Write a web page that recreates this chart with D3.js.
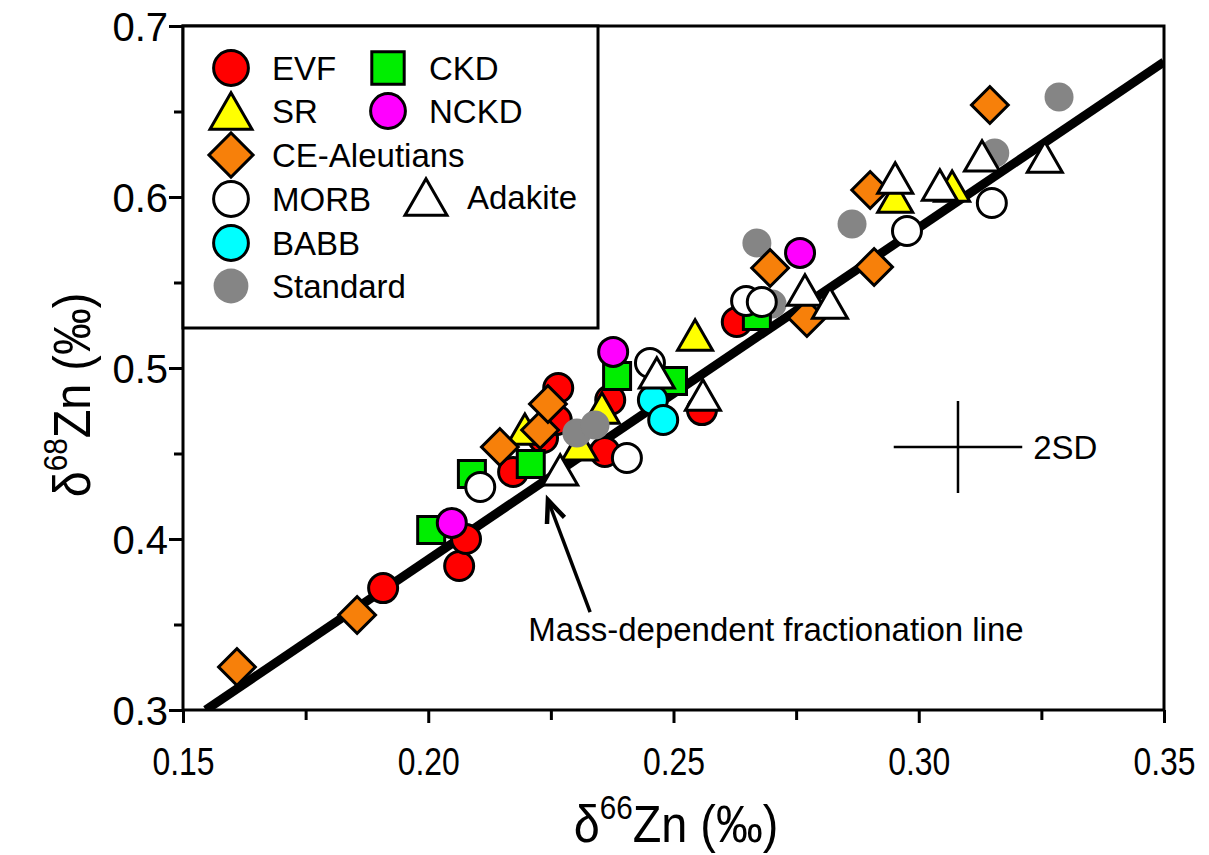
<!DOCTYPE html>
<html>
<head>
<meta charset="utf-8">
<script src="https://cdn.jsdelivr.net/npm/d3@7"></script>
<style>
  body { margin: 0; background: #fff; }
  text { font-family: "Liberation Sans", Arial, sans-serif; fill: #000; }
</style>
</head>
<body>
<svg id="chart" width="1209" height="855"></svg>
<script>
var WIDTH = 1209;
var HEIGHT = 855;

// sample groups: [d66Zn, d68Zn]
var EVF = [[0.1908,0.3713],[0.2063,0.3842],[0.2077,0.4000],[0.2173,0.4392],[0.2234,0.4591],
    [0.2262,0.4696],[0.2265,0.4883],[0.2371,0.4813],[0.2360,0.4509],[0.2558,0.4754],[0.2629,0.5269]];
var SR = [[0.2197,0.4643],[0.2309,0.4550],[0.2354,0.4766],[0.2544,0.5193],[0.2952,0.6000],[0.3068,0.6064]];
var STANDARD = [[0.2303,0.4620],[0.2340,0.4667],[0.2670,0.5731],[0.2701,0.5374],[0.2864,0.5842],
    [0.3155,0.6257],[0.3286,0.6585]];
var CKD = [[0.2006,0.4053],[0.2089,0.4380],[0.2209,0.4439],[0.2385,0.4953],[0.2499,0.4924],[0.2670,0.5304]];
var NCKD = [[0.2048,0.4094],[0.2377,0.5094],[0.2758,0.5673]];
var CE_ALEUTIANS = [[0.1610,0.3251],[0.1855,0.3556],[0.2146,0.4538],[0.2228,0.4637],[0.2244,0.4789],
    [0.2697,0.5585],[0.2772,0.5292],[0.2909,0.5591],[0.2901,0.6041],[0.3145,0.6538]];
var BABB = [[0.2458,0.4813],[0.2479,0.4696]];
var MORB = [[0.2106,0.4304],[0.2405,0.4474],[0.2452,0.5029],[0.2648,0.5392],[0.2680,0.5386],
    [0.2976,0.5801],[0.3149,0.5965]];
var ADAKITE = [[0.2269,0.4404],[0.2466,0.4971],[0.2560,0.4842],[0.2768,0.5456],[0.2819,0.5380],
    [0.2952,0.6111],[0.3043,0.6070],[0.3129,0.6240],[0.3257,0.6234]];

var X_TICKS = [0.15, 0.20, 0.25, 0.30, 0.35];
var X_MINOR = [0.175, 0.225, 0.275, 0.325];
var Y_TICKS = [0.3, 0.4, 0.5, 0.6, 0.7];
var Y_MINOR = [0.35, 0.45, 0.55, 0.65];
var LINE_SLOPE = 1.94;          // mass-dependent fractionation line, d68 = 1.94 * d66
var SD_CENTER = [0.3080, 0.4538];
var SD_ERR = [0.0131, 0.0269];
var ARROW_FROM = [0.2330, 0.3573];
var ARROW_TO = [0.2244, 0.4228];
var NOTE_POS = [0.2709, 0.3404];

var series = [
    {name: "EVF", data: EVF, shape: "circle", fill: "#ff0000"},
    {name: "SR", data: SR, shape: "triangle", fill: "#ffff00"},
    {name: "Standard", data: STANDARD, shape: "circle", fill: "#858585", noStroke: true},
    {name: "CKD", data: CKD, shape: "square", fill: "#00ee00"},
    {name: "NCKD", data: NCKD, shape: "circle", fill: "#ff00ff"},
    {name: "CE-Aleutians", data: CE_ALEUTIANS, shape: "diamond", fill: "#f7800a"},
    {name: "BABB", data: BABB, shape: "circle", fill: "#00ffff"},
    {name: "MORB", data: MORB, shape: "circle", fill: "#ffffff"},
    {name: "Adakite", data: ADAKITE, shape: "triangle", fill: "#ffffff"}
];

var plotLeft = 183, plotRight = 1164, plotTop = 26, plotBottom = 710;
var x = d3.scaleLinear().domain([0.15, 0.35]).range([plotLeft, plotRight]);
var y = d3.scaleLinear().domain([0.3, 0.7]).range([plotBottom, plotTop]);

var svg = d3.select("#chart");

/**
 * Path for a marker shape, k scales it (legend symbols are a bit bigger)
 */
function marker(shape, k) {
    k = k || 1;
    if (shape === "circle") return d3.symbol(d3.symbolCircle, Math.PI * 14.5 * 14.5 * k * k)();
    if (shape === "square") return d3.symbol(d3.symbolSquare, 27 * 27 * k * k)();
    if (shape === "diamond") return d3.symbol(d3.symbolSquare, 26 * 26 * k * k)();
    // equilateral triangle, side ~35
    var s = 35 * k;
    var h = s * Math.sqrt(3) / 2;
    return "M0," + (-h / 2) + "L" + (s / 2) + "," + (h / 2) + "L" + (-s / 2) + "," + (h / 2) + "Z";
}

// fractionation line, clipped to the plot area
svg.append("clipPath").attr("id", "clip")
    .append("rect").attr("x", plotLeft).attr("y", plotTop)
    .attr("width", plotRight - plotLeft).attr("height", plotBottom - plotTop);
var x0 = 0.3 / LINE_SLOPE;
svg.append("line")
    .attr("clip-path", "url(#clip)")
    .attr("x1", x(x0)).attr("y1", y(0.3))
    .attr("x2", x(0.35)).attr("y2", y(LINE_SLOPE * 0.35))
    .attr("stroke", "#000").attr("stroke-width", 9);

// axes
var xAxis = d3.axisBottom(x).tickValues(X_TICKS).tickSize(13).tickFormat(d3.format(".2f"));
var yAxis = d3.axisLeft(y).tickValues(Y_TICKS).tickSize(14).tickFormat(d3.format(".1f"));
var xMinor = d3.axisBottom(x).tickValues(X_MINOR).tickSize(10).tickFormat("");
var yMinor = d3.axisLeft(y).tickValues(Y_MINOR).tickSize(9).tickFormat("");

function styleAxis(g) {
    g.select(".domain").remove();
    g.selectAll("line").attr("stroke", "#000").attr("stroke-width", 3);
    g.attr("font-family", null).attr("font-size", null);
}
svg.append("g").attr("transform", "translate(0," + plotBottom + ")").call(xMinor).call(styleAxis);
svg.append("g").attr("transform", "translate(" + plotLeft + ",0)").call(yMinor).call(styleAxis);
var gx = svg.append("g").attr("transform", "translate(0," + plotBottom + ")").call(xAxis).call(styleAxis);
gx.selectAll("text")
    .attr("y", 0).attr("dy", null)
    .attr("font-size", 38)
    .attr("transform", "translate(0,65) scale(0.84,1)");
var gy = svg.append("g").attr("transform", "translate(" + plotLeft + ",0)").call(yAxis).call(styleAxis);
gy.selectAll("text")
    .attr("x", -15).attr("dy", "0.36em")
    .attr("font-size", 40);

// frame
svg.append("rect")
    .attr("x", plotLeft).attr("y", plotTop)
    .attr("width", plotRight - plotLeft).attr("height", plotBottom - plotTop)
    .attr("fill", "none").attr("stroke", "#000").attr("stroke-width", 3);

// 2SD cross
svg.append("line")
    .attr("x1", x(SD_CENTER[0] - SD_ERR[0])).attr("x2", x(SD_CENTER[0] + SD_ERR[0]))
    .attr("y1", y(SD_CENTER[1])).attr("y2", y(SD_CENTER[1]))
    .attr("stroke", "#000").attr("stroke-width", 2.5);
svg.append("line")
    .attr("x1", x(SD_CENTER[0])).attr("x2", x(SD_CENTER[0]))
    .attr("y1", y(SD_CENTER[1] - SD_ERR[1])).attr("y2", y(SD_CENTER[1] + SD_ERR[1]))
    .attr("stroke", "#000").attr("stroke-width", 2.5);
svg.append("text")
    .attr("x", x(SD_CENTER[0] + SD_ERR[0]) + 11).attr("y", y(SD_CENTER[1]) + 12)
    .attr("font-size", 33).text("2SD");

// arrow + note
var ax1 = x(ARROW_FROM[0]), ay1 = y(ARROW_FROM[1]), ax2 = x(ARROW_TO[0]), ay2 = y(ARROW_TO[1]);
svg.append("line")
    .attr("x1", ax1).attr("y1", ay1).attr("x2", ax2).attr("y2", ay2)
    .attr("stroke", "#000").attr("stroke-width", 3.5);
var ang = Math.atan2(ay1 - ay2, ax1 - ax2);
var headLen = 24, spread = 0.4;
svg.append("path")
    .attr("d", "M" + (ax2 + headLen * Math.cos(ang - spread)) + "," + (ay2 + headLen * Math.sin(ang - spread)) +
        "L" + ax2 + "," + ay2 +
        "L" + (ax2 + headLen * Math.cos(ang + spread)) + "," + (ay2 + headLen * Math.sin(ang + spread)))
    .attr("fill", "none").attr("stroke", "#000").attr("stroke-width", 4.5);
svg.append("text")
    .attr("x", x(NOTE_POS[0])).attr("y", y(NOTE_POS[1]))
    .attr("text-anchor", "middle").attr("font-size", 33)
    .text("Mass-dependent fractionation line");

// data points
series.forEach(function(s) {
    svg.append("g").selectAll("path").data(s.data).enter().append("path")
        .attr("d", marker(s.shape))
        .attr("transform", function(d) {
            return "translate(" + x(d[0]) + "," + y(d[1]) + ")" + (s.shape === "diamond" ? " rotate(45)" : "");
        })
        .attr("fill", s.fill)
        .attr("stroke", s.noStroke ? "none" : "#000")
        .attr("stroke-width", 3);
});

// legend
var legend = svg.append("g");
legend.append("rect")
    .attr("x", plotLeft).attr("y", plotTop)
    .attr("width", 598 - plotLeft).attr("height", 328 - plotTop)
    .attr("fill", "#fff").attr("stroke", "#000").attr("stroke-width", 3);
var byName = {};
series.forEach(function(s) { byName[s.name] = s; });
var legendItems = [
    ["EVF", 231, 68], ["CKD", 388, 68], ["SR", 231, 111], ["NCKD", 388, 111],
    ["CE-Aleutians", 231, 155], ["MORB", 231, 199], ["Adakite", 426, 197],
    ["BABB", 231, 243], ["Standard", 231, 286]
];
legendItems.forEach(function(it) {
    var s = byName[it[0]];
    legend.append("path")
        .attr("d", marker(s.shape, 1.2))
        .attr("transform", "translate(" + it[1] + "," + it[2] + ")" + (s.shape === "diamond" ? " rotate(45)" : ""))
        .attr("fill", s.fill)
        .attr("stroke", s.noStroke ? "none" : "#000")
        .attr("stroke-width", 3);
    legend.append("text")
        .attr("x", it[1] + 41).attr("y", it[2] + 12)
        .attr("font-size", 33).text(it[0]);
});

// axis titles
var xt = svg.append("text").attr("transform", "translate(676,842) scale(0.9,1)")
    .attr("text-anchor", "middle").attr("font-size", 52);
xt.append("tspan").text("\u03b4");
xt.append("tspan").attr("font-size", 33).attr("dy", -23).text("66");
xt.append("tspan").attr("dy", 23).text("Zn (\u2030)");

var yt = svg.append("text").attr("transform", "translate(90,395) rotate(-90) scale(0.9,1)")
    .attr("text-anchor", "middle").attr("font-size", 52);
yt.append("tspan").text("\u03b4");
yt.append("tspan").attr("font-size", 33).attr("dy", -23).text("68");
yt.append("tspan").attr("dy", 23).text("Zn (\u2030)");
</script>
</body>
</html>
